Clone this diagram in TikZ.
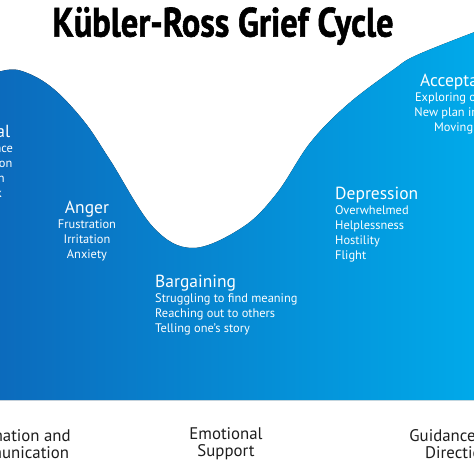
\documentclass[tikz,border=0pt]{standalone}
\usepackage{fontspec}
\setmainfont{PT Sans}
\newfontfamily\titlefont[FakeBold=1.5]{PT Sans Bold}
\usepackage{graphicx}
\usetikzlibrary{positioning}

\definecolor{griefDark}{RGB}{12,106,188}
\definecolor{griefLight}{RGB}{0,170,234}
\definecolor{labelGray}{RGB}{30,30,30}

\begin{document}
\begin{tikzpicture}[
    x=1pt, y=-1pt,
    node distance=2pt,
    stage/.style={text=white, inner sep=0pt, text height=12pt, text depth=4pt, font=\fontsize{17.5}{19}\selectfont},
    items/.style={text=white, inner sep=0pt, font=\fontsize{12.4}{15}\selectfont},
    help/.style={text=labelGray, inner sep=0pt, align=center, font=\fontsize{16.8}{17}\selectfont}
]
\useasboundingbox (0,0) rectangle (474,474);
\fill[white] (0,0) rectangle (474,474);
\clip (0,0) rectangle (474,474);

% Curve
\fill[left color=griefDark, right color=griefLight]
  (-5,400) -- plot[smooth, tension=0.6] coordinates {(-5,73) (18,70) (50,86) (83,120) (110,160) (153,227) (193,248) (243,227) (277,193) (310,143) (347,105) (393,70) (417,55) (480,30)} -- (480,400) -- cycle;

% Title
\node[inner sep=0pt] (title) at (223,26) {\resizebox*{341pt}{38pt}{\titlefont Kübler-Ross Grief Cycle}};

% Stages
\node[stage, anchor=base] (denial) at (-14,137) {Denial};
\node[items, align=center, below=of denial] (denialitems) {Avoidance\\Confusion\\Elation\\Shock};

\node[stage, anchor=base] (anger) at (87,213) {Anger};
\node[items, align=center, below=of anger] (angeritems) {Frustration\\Irritation\\Anxiety};

\node[stage, anchor=base west] (bargaining) at (155,287) {Bargaining};
\node[items, align=left, below=of bargaining.south west, anchor=north west] (bargainingitems) {Struggling to find meaning\\Reaching out to others\\Telling one’s story};

\node[stage, anchor=base west] (depression) at (335,199) {Depression};
\node[items, align=left, below=of depression.south west, anchor=north west] (depressionitems) {Overwhelmed\\Helplessness\\Hostility\\Flight};

\node[stage, anchor=base] (acceptance) at (462,86) {Acceptance};
\node[items, align=center, below=of acceptance] (acceptanceitems) {Exploring options\\New plan in place\\Moving on};

% Support
\node[help] (info) at (13,444) {Information and\\Communication};
\node[help] (support) at (226,444) {Emotional\\Support};
\node[help] (guidance) at (458,444) {Guidance and\\Direction};

\end{tikzpicture}
\end{document}
